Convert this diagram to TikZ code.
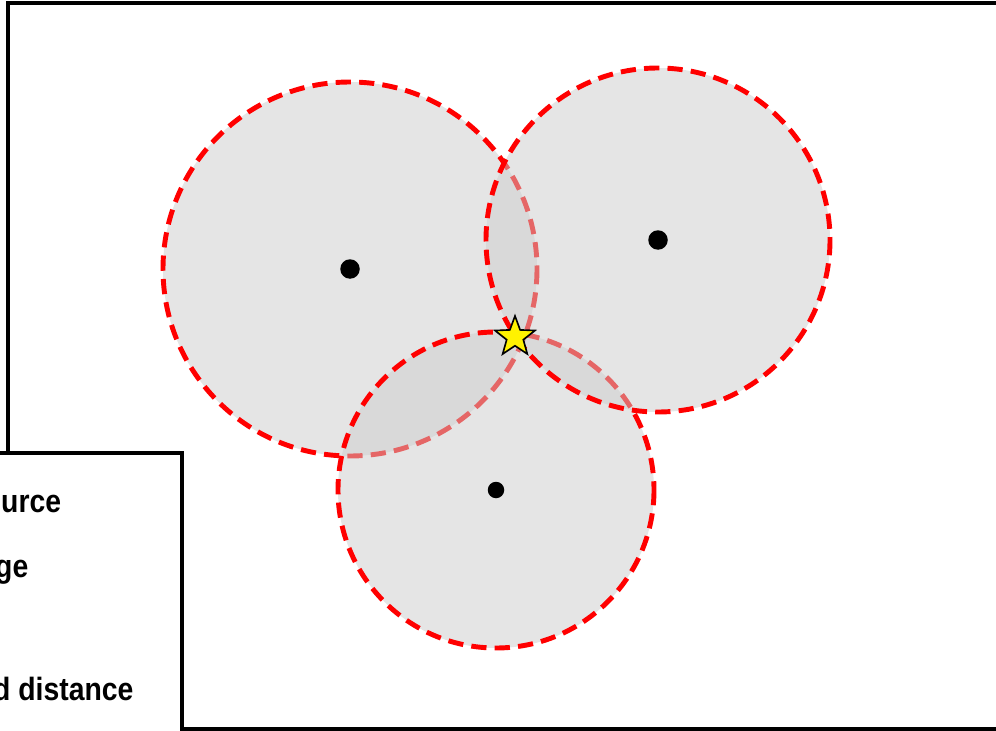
\documentclass[tikz,border=0pt]{standalone}
\usepackage{fontspec}
\setmainfont{Liberation Sans}[FakeStretch=0.88]
\usetikzlibrary{shapes.geometric, shadows}

\begin{document}
\begin{tikzpicture}[
  x=0.03cm, y=-0.03cm,
  font=\fontsize{27.5}{30}\selectfont\bfseries,
  frame/.style={draw, line width=3.2pt},
  zone/.style={fill=black!20, fill opacity=0.5, draw=red, draw opacity=1, line width=4.2pt, dash pattern=on 13pt off 7pt},
  anchorpt/.style={circle, fill=black, inner sep=0pt},
  target/.style={star, star points=5, star point ratio=2.4, inner sep=0pt, fill=yellow, draw=black, line width=1.4pt, drop shadow={shadow xshift=0pt, shadow yshift=-1pt, opacity=0.35}},
  legtext/.style={anchor=base west, inner sep=0pt}
]
\useasboundingbox (0,0) rectangle (996,731);

% outer frame
\draw[frame] (8,3) rectangle (1010,729);

% sensor positions
\coordinate (s1) at (350,269);
\coordinate (s2) at (658,240);
\coordinate (s3) at (496,490);

% range circles
\draw[zone] (s1) circle (187);
\draw[zone] (s3) circle (158);
\draw[zone] (s2) circle (172);

\node[anchorpt, minimum size=19.5*0.03cm] (p1) at (s1) {};
\node[anchorpt, minimum size=19.5*0.03cm] (p2) at (s2) {};
\node[anchorpt, minimum size=16.5*0.03cm] (p3) at (s3) {};

% estimated position
\node[target, minimum size=42*0.03cm] (est) at (515,337) {};

% legend
\draw[frame, fill=white] (-10,453) rectangle (182,745);
\node[legtext] (l1) at (1,512) {urce};
\node[legtext] (l2) at (-5,577) {ge};
\node[legtext] (l3) at (-7,700) {d distance};
\end{tikzpicture}
\end{document}
